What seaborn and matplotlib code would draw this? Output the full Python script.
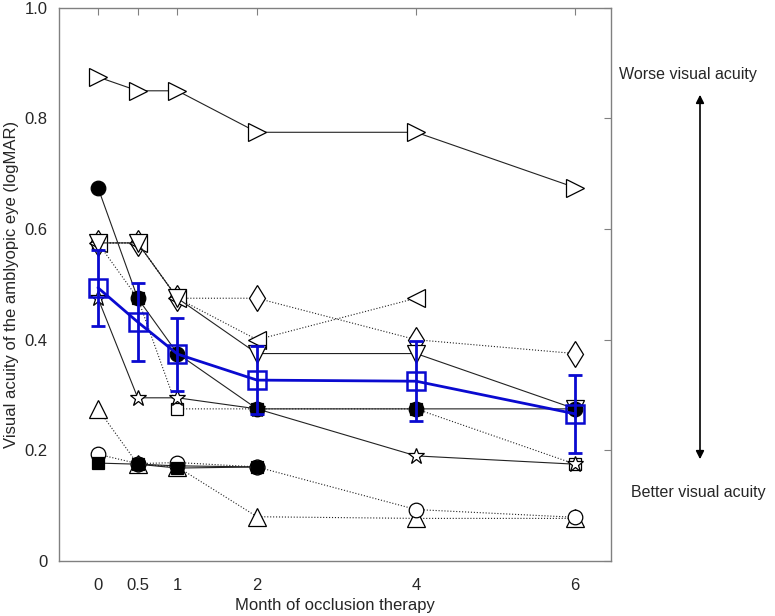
import numpy as np
import pandas as pd
import seaborn as sns
import matplotlib.pyplot as plt
from matplotlib.patches import FancyArrowPatch

# months and subject data (logMAR), nan = no visit
months = [0, 0.5, 1, 2, 4, 6]

s_right_tri = [0.875, 0.85, 0.85, 0.775, 0.775, 0.675]
s_square_open = [0.575, 0.475, 0.275, 0.275, 0.275, 0.175]
s_diamond = [0.575, 0.575, 0.475, 0.475, 0.40, 0.375]
s_left_tri = [0.575, 0.575, 0.475, 0.40, 0.475, np.nan]
s_down_tri = [0.575, 0.575, 0.475, 0.375, 0.375, 0.275]
s_star = [0.475, 0.295, 0.295, 0.275, 0.19, 0.175]
s_up_tri = [0.275, 0.175, 0.17, 0.08, 0.077, 0.077]
s_circle_open = [0.193, 0.176, 0.178, 0.17, 0.093, 0.079]
s_circle_fill2 = [np.nan, 0.175, 0.172, 0.17, np.nan, np.nan]
s_square_fill = [0.177, 0.175, 0.168, 0.17, np.nan, np.nan]
s_circle_fill = [0.675, 0.475, 0.375, 0.275, 0.275, 0.275]

mean_va = [0.494, 0.432, 0.374, 0.327, 0.325, 0.266]
err_va = [0.069, 0.071, 0.066, 0.061, 0.072, 0.070]

# (data, marker, filled, linestyle)
series = [
    (s_right_tri, ">", False, "-"),
    (s_square_open, "s", False, ":"),
    (s_diamond, "d", False, ":"),
    (s_left_tri, "<", False, ":"),
    (s_down_tri, "v", False, "-"),
    (s_star, "*", False, "-"),
    (s_up_tri, "^", False, ":"),
    (s_circle_fill2, "o", True, "-"),
    (s_circle_open, "o", False, ":"),
    (s_square_fill, "s", True, "-"),
    (s_circle_fill, "o", True, "-"),
]
sizes = {">": 13, "<": 13, "v": 13, "^": 13, "d": 13, "s": 8, "o": 10.5, "*": 12}

sns.set_style("white")
plt.rcParams["font.family"] = ["Liberation Sans", "DejaVu Sans"]

fig = plt.figure(figsize=(7.75, 6.16), dpi=100)
ax = fig.add_axes([0.0761, 0.0893, 0.7123, 0.898])

for vals, mk, filled, ls in series:
    df = pd.DataFrame({"month": months, "va": vals}).dropna()
    sns.lineplot(data=df, x="month", y="va", ax=ax, color="#222222",
                 linewidth=0.8, linestyle=ls, marker=mk, markersize=sizes[mk],
                 markerfacecolor="black" if filled else "white",
                 markeredgecolor="black", markeredgewidth=0.9,
                 estimator=None, sort=False)

mdf = pd.DataFrame({"month": months, "va": mean_va, "err": err_va})
ax.errorbar(mdf["month"], mdf["va"], yerr=mdf["err"], fmt="none",
            ecolor="#0a0ad0", elinewidth=2, capsize=5, capthick=2, zorder=5)
sns.lineplot(data=mdf, x="month", y="va", ax=ax, color="#0a0ad0",
             linewidth=2, marker="s", markersize=13, markerfacecolor="none",
             markeredgecolor="#0a0ad0", markeredgewidth=1.8,
             estimator=None, sort=False, zorder=6)

ax.set_xlim(-0.49, 6.45)
ax.set_ylim(0, 1.0)
ax.set_xticks(months)
ax.set_xticklabels(["0", "0.5", "1", "2", "4", "6"])
ax.set_yticks([0, 0.2, 0.4, 0.6, 0.8, 1.0])
ax.set_yticklabels(["0", "0.2", "0.4", "0.6", "0.8", "1.0"])
ax.tick_params(direction="in", length=5, width=0.8, color="#808080",
               labelsize=12, top=True, right=True, pad=12)
ax.tick_params(axis="y", pad=8)
for sp in ax.spines.values():
    sp.set_color("#808080")
    sp.set_linewidth(1)

ax.set_xlabel("Month of occlusion therapy", fontsize=12, labelpad=4)
ax.set_ylabel("Visual acuity of the amblyopic eye (logMAR)", fontsize=12,
              labelpad=4)

fig.text(688 / 775, 1 - 75 / 616, "Worse visual acuity", ha="center",
         va="center", fontsize=11.5)
fig.text(698 / 775, 1 - 493 / 616, "Better visual acuity", ha="center",
         va="center", fontsize=11.5)
fig.add_artist(FancyArrowPatch(
    (700 / 775, 1 - 462 / 616), (700 / 775, 1 - 92 / 616),
    transform=fig.transFigure, arrowstyle="<|-|>", mutation_scale=12,
    color="black", linewidth=1.2))

fig.savefig("out.png", dpi=100)
